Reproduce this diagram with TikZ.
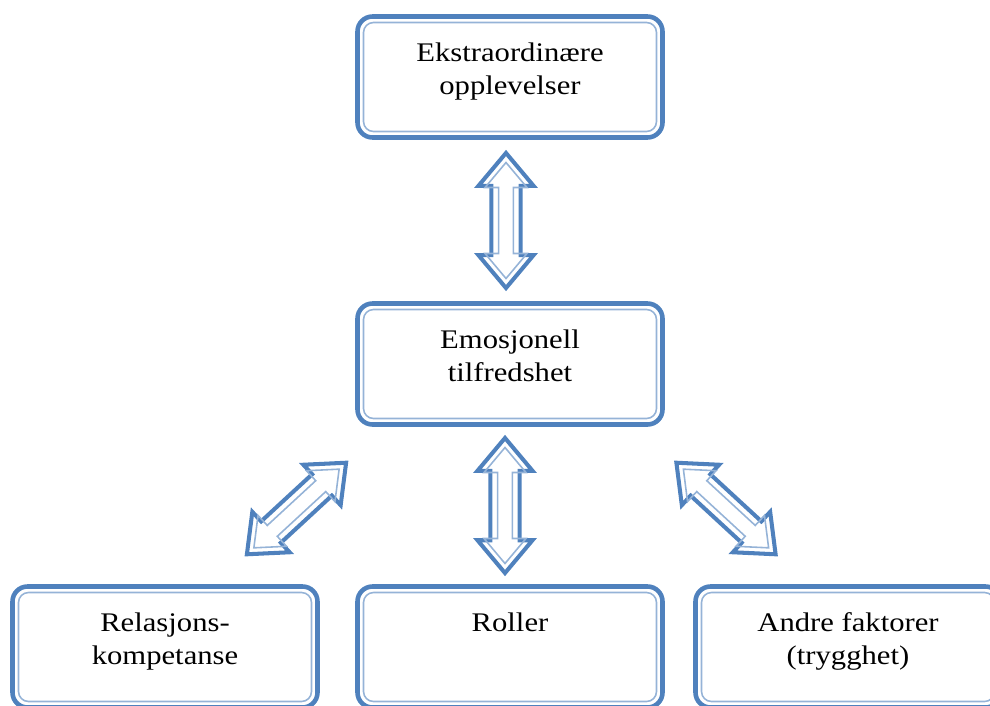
\documentclass[tikz,border=0pt]{standalone}
\usepackage{fontspec}
\setmainfont{Liberation Serif}
\usepackage{tikz}
\usetikzlibrary{calc,positioning,shapes.arrows}
\usepackage{xcolor}
\definecolor{boxblue}{RGB}{79,129,189}
\definecolor{lightblue}{RGB}{149,179,215}

\tikzset{
  box/.style={draw=boxblue, line width=2.6pt, rounded corners=0.3cm, minimum width=6.1cm, minimum height=2.42cm, inner sep=0pt, outer sep=0pt},
  inbox/.style={draw=lightblue, line width=0.9pt, rounded corners=0.2cm},
  txt/.style={align=center, inner sep=0pt, font=\fontsize{15.3}{18.7}\selectfont, xscale=1.14, transform shape},
  darrow/.style={double arrow, draw=boxblue, line width=2.3pt, double arrow tip angle=80, minimum height=2.7cm, minimum width=1.1cm, inner xsep=0pt, inner ysep=0.24cm, outer sep=0pt},
  inarrow/.style={double arrow, draw=lightblue, line width=0.9pt, double arrow tip angle=80, minimum height=2.32cm, minimum width=0.84cm, inner xsep=0pt, inner ysep=0.12cm, outer sep=0pt}
}

\begin{document}
\begin{tikzpicture}
\useasboundingbox (0,0) rectangle (19.8,14.1);
\clip (0,0) rectangle (19.8,14.1);

% Draw the boxes
\node[box] (ekstra) at (10.2,12.56) {};
\node[box] (emosj) at (10.2,6.82) {};
\node[box] (relasj) at (3.3,1.16) {};
\node[box] (roller) at (10.2,1.16) {};
\node[box] (andre) at (16.96,1.16) {};

% Thin inner frame of each box
\foreach \n in {ekstra,emosj,relasj,roller,andre}
  \draw[inbox] ([shift={(0.12,-0.12)}]\n.north west) rectangle ([shift={(-0.12,0.12)}]\n.south east);

% Texts
\node[txt, below=0.52cm of ekstra.north] (ekstratxt) {Ekstraordinære\\opplevelser};
\node[txt, below=0.52cm of emosj.north] (emosjtxt) {Emosjonell\\tilfredshet};
\node[txt, below=0.52cm of relasj.north] (relasjtxt) {Relasjons-\\kompetanse};
\node[txt, below=0.52cm of roller.north] (rollertxt) {Roller};
\node[txt, below=0.52cm of andre.north] (andretxt) {Andre faktorer\\(trygghet)};

% Double arrows between the boxes
\coordinate (c1) at ($(ekstra.south)!0.5!(emosj.north)+(-0.08,0)$);
\coordinate (c2) at ($(emosj.south)!0.5!(roller.north)+(-0.1,0)$);
\coordinate (c3) at (5.93,3.93);
\coordinate (c4) at (14.52,3.93);
\foreach \n/\a in {1/90,2/90,3/42.7,4/-42.7}{
  \node[darrow, rotate=\a] (pil\n) at (c\n) {};
  \node[inarrow, rotate=\a] (pilin\n) at (c\n) {};
}
\end{tikzpicture}
\end{document}
